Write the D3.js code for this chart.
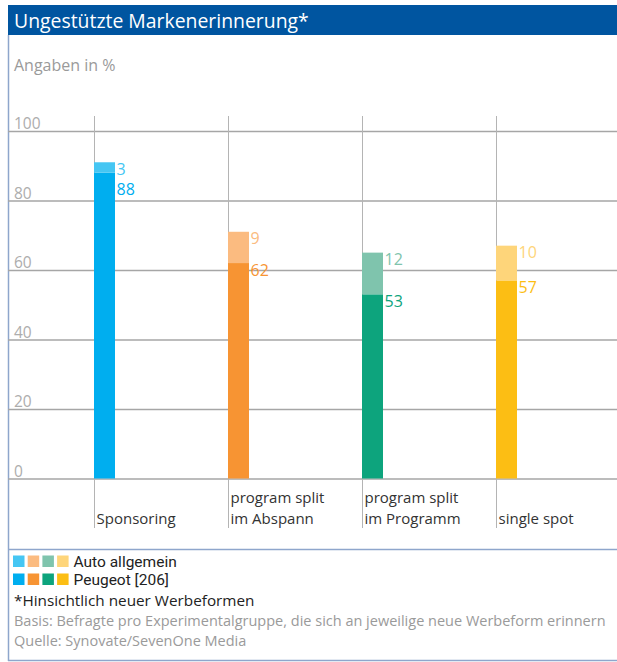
<!DOCTYPE html>
<html>
<head>
<meta charset="utf-8">
<script src="https://cdn.jsdelivr.net/npm/d3@7"></script>
<style>
  html, body { margin: 0; padding: 0; background: #fff; }
  svg { display: block; font-family: "Open Sans", "DejaVu Sans", sans-serif; }
</style>
</head>
<body>
<svg id="chart" width="617" height="662"></svg>
<script>
// Categories and the two stacked series (Peugeot at the base, generic car recall on top)
const categories = ["Sponsoring", "program split\nim Abspann", "program split\nim Programm", "single spot"];
const peugeot = [88, 62, 53, 57];
const autoAllgemein = [3, 9, 12, 10];
const yTicks = [0, 20, 40, 60, 80, 100];

const darkColors = ["#00aeef", "#f79433", "#0da47d", "#fcbe14"];
const lightColors = ["#45c6f3", "#fbbb80", "#7fc4ad", "#fed57a"];

const legendItems = [
  { label: "Auto allgemein", colors: lightColors },
  { label: "Peugeot [206]", colors: darkColors }
];
const footnote = "*Hinsichtlich neuer Werbeformen";
const notes = [
  "Basis: Befragte pro Experimentalgruppe, die sich an jeweilige neue Werbeform erinnern",
  "Quelle: Synovate/SevenOne Media"
];

const svg = d3.select("#chart");
const W = 617, frameLeft = 8;
const borderColor = "#8ea6cc";

// Title bar
svg.append("rect").attr("x", frameLeft).attr("y", 5).attr("width", W - frameLeft).attr("height", 30)
  .attr("fill", "#0055a0");
svg.append("text").attr("x", 14).attr("y", 28).attr("fill", "#fff")
  .attr("font-size", 19.4).text("Ungestützte Markenerinnerung*");

// Frame lines
svg.append("line").attr("x1", frameLeft + 0.5).attr("x2", frameLeft + 0.5).attr("y1", 35).attr("y2", 661)
  .attr("stroke", borderColor).attr("stroke-width", 1.5);
svg.append("line").attr("x1", frameLeft).attr("x2", W).attr("y1", 549.5).attr("y2", 549.5)
  .attr("stroke", borderColor).attr("stroke-width", 1.5);
svg.append("line").attr("x1", frameLeft).attr("x2", W).attr("y1", 660.5).attr("y2", 660.5)
  .attr("stroke", borderColor).attr("stroke-width", 1.5);

// Unit label
svg.append("text").attr("x", 14).attr("y", 71).attr("fill", "#9a9a9a")
  .attr("font-size", 16).text("Angaben in %");

// Scales
const y = d3.scaleLinear().domain([0, 100]).range([478.5, 131]);
const x = d3.scalePoint().domain(categories).range([94.5, 496.5]);
const barW = 21;

// Horizontal grid with tick labels sitting above each line
const yAxis = d3.axisRight(y).tickValues(yTicks).tickSize(W - frameLeft).tickFormat(d3.format("d"));
const gy = svg.append("g").attr("transform", `translate(${frameLeft},0)`).call(yAxis);
gy.select(".domain").remove();
gy.selectAll(".tick line").attr("stroke", "#a6a6a6").attr("stroke-width", 1.4);
gy.selectAll(".tick text")
  .attr("x", 6).attr("y", -2.5).attr("dy", null)
  .attr("text-anchor", "start").attr("fill", "#adadad")
  .attr("font-size", 15.5).attr("font-family", "\"Open Sans\", sans-serif");

// Vertical category separators
svg.append("g").selectAll("line").data(categories).join("line")
  .attr("x1", d => x(d)).attr("x2", d => x(d))
  .attr("y1", 116).attr("y2", 528)
  .attr("stroke", "#b4b4b4").attr("stroke-width", 1);

// Category labels, bottom-aligned below the axis
const catText = svg.append("g").selectAll("text").data(categories).join("text")
  .attr("x", d => x(d) + 2).attr("fill", "#333").attr("font-size", 15);
catText.each(function (d) {
  const lines = d.split("\n");
  const t = d3.select(this);
  lines.forEach((ln, i) => {
    t.append("tspan").attr("x", x(d) + 2)
      .attr("y", 524 - (lines.length - 1 - i) * 21).text(ln);
  });
});

// Stacked bars
const bars = svg.append("g");
categories.forEach((c, i) => {
  const x0 = x(c) - 0.5;
  const base = peugeot[i];
  const total = base + autoAllgemein[i];
  bars.append("rect").attr("x", x0).attr("width", barW)
    .attr("y", y(base)).attr("height", y(0) - y(base)).attr("fill", darkColors[i]);
  bars.append("rect").attr("x", x0).attr("width", barW)
    .attr("y", y(total)).attr("height", y(base) - y(total)).attr("fill", lightColors[i]);

  // Value labels to the right of each segment, kept from overlapping
  const topBase = y(total) + 12.5;
  const lowBase = Math.max(y(base) + 12.5, topBase + 20);
  bars.append("text").attr("x", x0 + barW + 1.5).attr("y", topBase)
    .attr("fill", lightColors[i]).attr("font-size", 16).text(autoAllgemein[i]);
  bars.append("text").attr("x", x0 + barW + 1.5).attr("y", lowBase)
    .attr("fill", darkColors[i]).attr("font-size", 16).text(peugeot[i]);
});

// Legend
const legend = svg.append("g");
legendItems.forEach((item, r) => {
  const top = 555.5 + r * 18;
  item.colors.forEach((col, k) => {
    legend.append("rect").attr("x", 13 + k * 14.7).attr("y", top)
      .attr("width", 11.5).attr("height", 11.5).attr("fill", col);
  });
  legend.append("text").attr("x", 73.5).attr("y", top + 11.5)
    .attr("fill", "#222").attr("font-size", 15.5)
    .attr("font-family", "Roboto, \"Open Sans\", sans-serif").text(item.label);
});

// Footnotes
svg.append("text").attr("x", 14).attr("y", 606).attr("fill", "#222")
  .attr("font-size", 15.3).text(footnote);
notes.forEach((n, i) => {
  svg.append("text").attr("x", 14).attr("y", 626 + i * 19.5).attr("fill", "#9a9a9a")
    .attr("font-size", 14.5).text(n);
});
</script>
</body>
</html>
